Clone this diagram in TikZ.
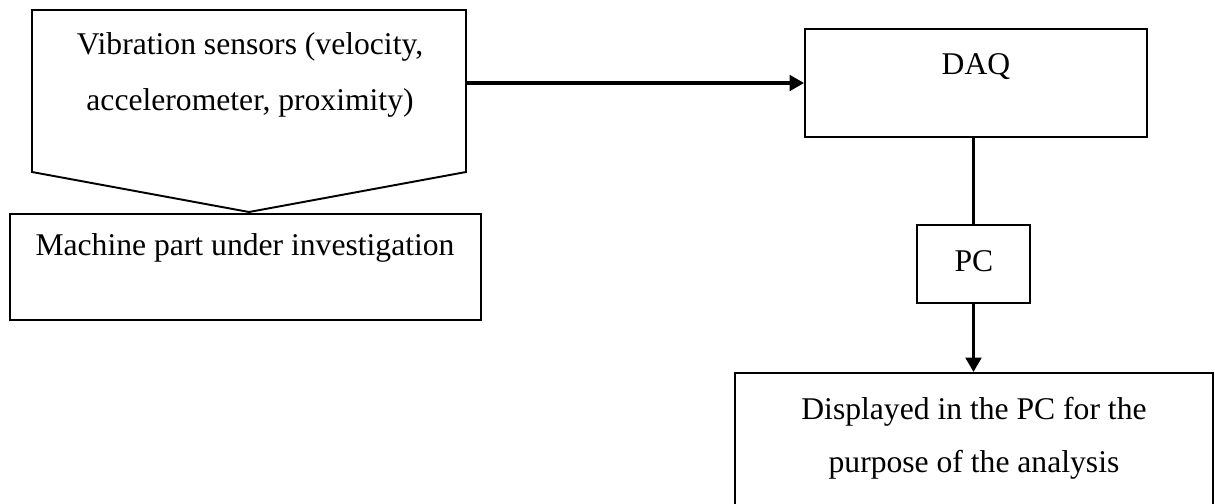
\documentclass[tikz,border=0pt]{standalone}
\usepackage{fontspec}
\setmainfont{Liberation Serif}
\usetikzlibrary{arrows.meta}

\begin{document}
\begin{tikzpicture}[x=0.02cm,y=-0.02cm,
  box/.style={draw,line width=1.1pt,inner sep=0pt},
  txt/.style={align=center,inner sep=0pt,font=\fontsize{18}{30}\selectfont},
  link/.style={line width=2pt},
  arr/.style={link,-{Triangle[length=2.9mm,width=3.1mm]}}]
\useasboundingbox (0,0) rectangle (1215,504);
% sensor block, pointing down onto the machine part
\draw[line width=1.1pt] (32,10) -- (466,10) -- (466,172) -- (249,212) coordinate (tip) -- (32,172) -- cycle;
\coordinate (sout) at (466,83);
\node[txt,font=\fontsize{18}{31.5}\selectfont] (sensor) at (250,75) {Vibration sensors (velocity,\\accelerometer, proximity)};
% boxes
\node[box,minimum width=9.42cm,minimum height=2.12cm] (machine) at (245.5,267) {};
\node[txt] (machinetxt) at (245,248) {Machine part under investigation};
\node[box,minimum width=6.84cm,minimum height=2.16cm] (daq) at (976,83) {};
\node[txt] (daqtxt) at (976,67) {DAQ};
\node[box,minimum width=2.26cm,minimum height=1.56cm] (pc) at (973.5,264) {};
\node[txt] (pctxt) at (974,261) {PC};
\node[box,minimum width=9.56cm,minimum height=2.94cm] (disp) at (974,446.5) {};
\node[txt] (disptxt) at (974,438) {Displayed in the PC for the\\purpose of the analysis};
% connectors
\draw[arr] (sout) -- (daq.west);
\draw[link] (pc.north |- daq.south) -- (pc.north);
\draw[arr] (pc.south) -- (pc.south |- disp.north);
\end{tikzpicture}
\end{document}
